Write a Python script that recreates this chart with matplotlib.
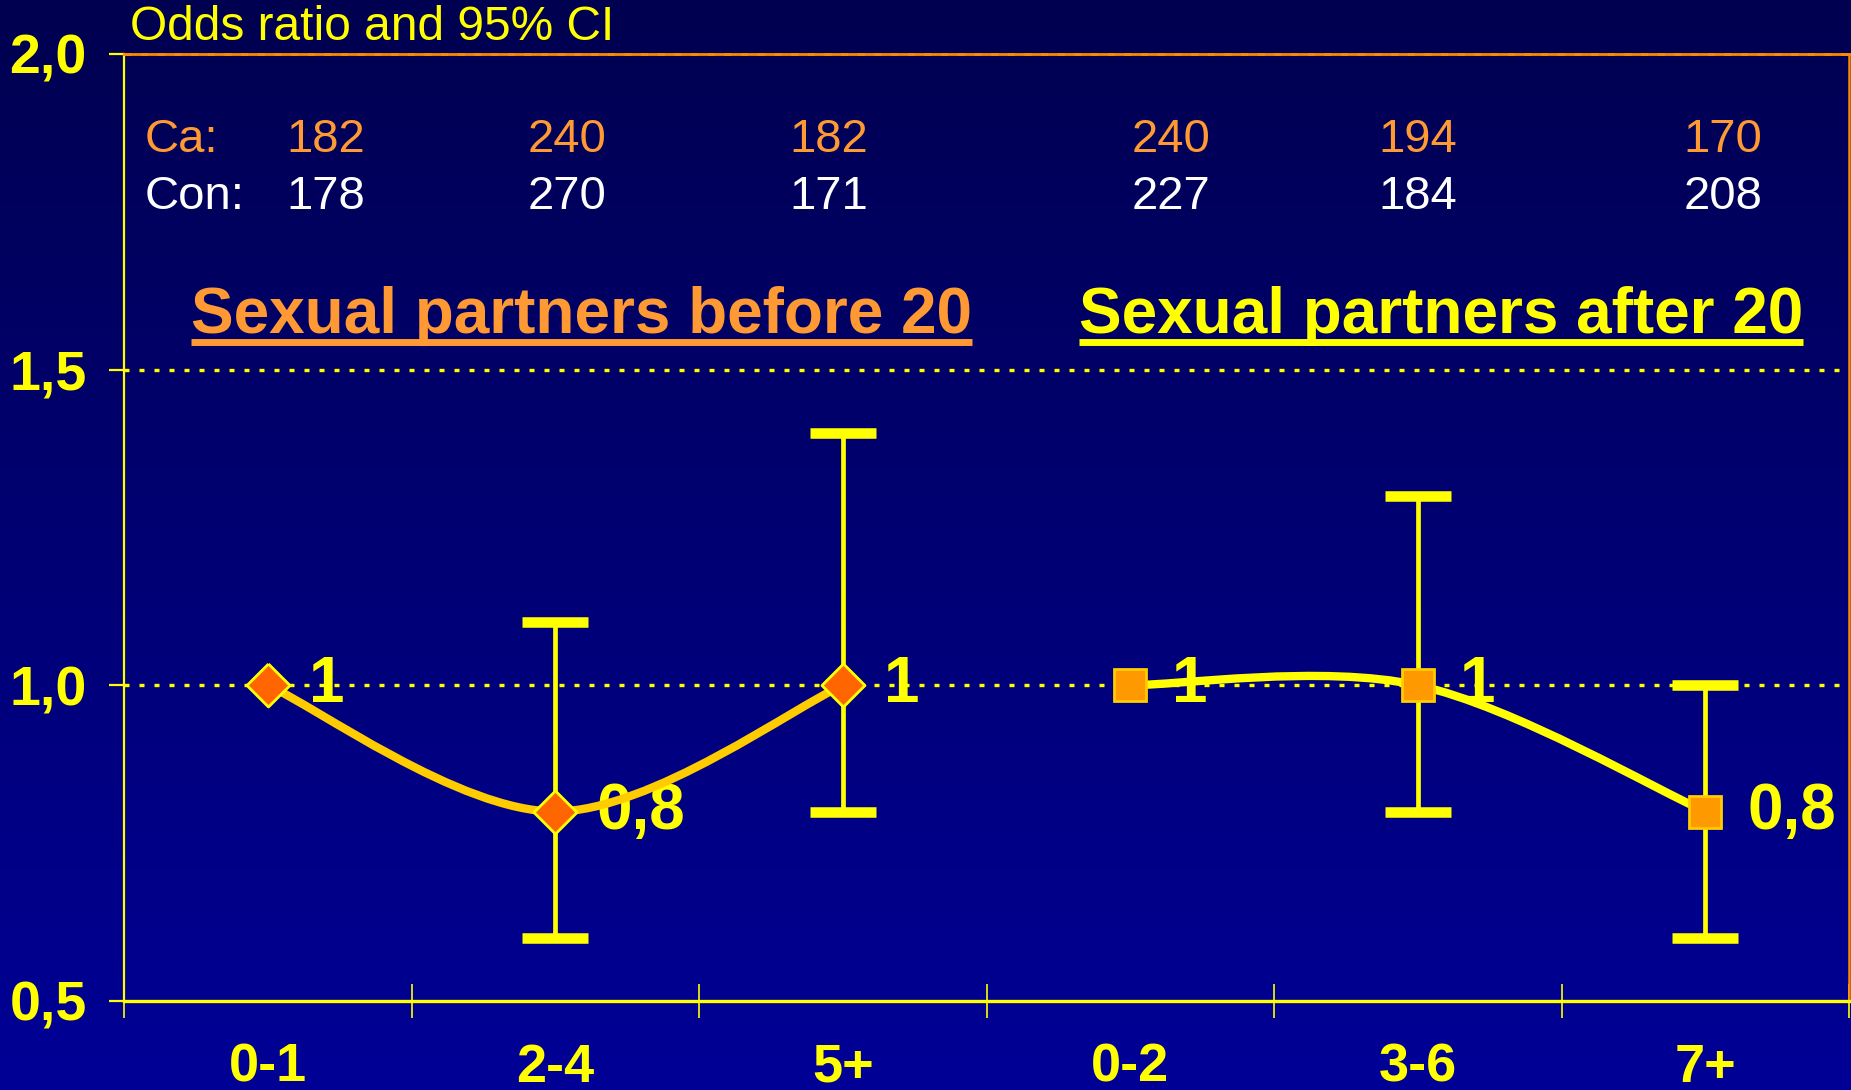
import numpy as np
import matplotlib
matplotlib.use("Agg")
import matplotlib.pyplot as plt
from matplotlib.path import Path
from matplotlib.patches import PathPatch
from matplotlib.lines import Line2D
from matplotlib.transforms import IdentityTransform
from matplotlib.colors import LinearSegmentedColormap

# data
categories = ["0-1", "2-4", "5+", "0-2", "3-6", "7+"]
odds_ratio = np.array([1.0, 0.8, 1.0, 1.0, 1.0, 0.8])
ci_low = np.array([np.nan, 0.6, 0.8, np.nan, 0.8, 0.6])
ci_high = np.array([np.nan, 1.1, 1.4, np.nan, 1.3, 1.0])
value_labels = ["1", "0,8", "1", "1", "1", "0,8"]
cases = [182, 240, 182, 240, 194, 170]
controls = [178, 270, 171, 227, 184, 208]
group_of = np.array([0, 0, 0, 1, 1, 1])
group_names = ["Sexual partners before 20", "Sexual partners after 20"]
yticks = [0.5, 1.0, 1.5, 2.0]
ytick_labels = ["0,5", "1,0", "1,5", "2,0"]

# layout bits
count_x = [0.70, 1.54, 2.45, 3.64, 4.50, 5.56]
header_x = [0.233, 3.32]

YELLOW = "#FFFF00"
GOLD = "#FFCC00"
ORANGE = "#FF9933"
FONT = ["Liberation Sans", "DejaVu Sans"]

fig = plt.figure(figsize=(18.51, 10.90), dpi=100)

# background gradient
bg = fig.add_axes([0, 0, 1, 1], zorder=-10)
cmap = LinearSegmentedColormap.from_list("bg", ["#000050", "#000096"])
bg.imshow(np.linspace(0, 1, 256).reshape(-1, 1), aspect="auto", cmap=cmap,
          extent=[0, 1, 0, 1], origin="upper")
bg.axis("off")

ax = fig.add_axes([0.067, 0.0817, 0.932, 0.8688])
ax.set_facecolor("none")
ax.set_xlim(0, 6)
ax.set_ylim(0.5, 2.0)

x = np.arange(len(categories)) + 0.5

# grid
for yv in (1.0, 1.5):
    ax.axhline(yv, color=YELLOW, lw=2.4, ls=(0, (1.5, 3.0)), zorder=1)

# spines
ax.spines["left"].set_color(YELLOW)
ax.spines["left"].set_linewidth(1.6)
ax.spines["bottom"].set_color(YELLOW)
ax.spines["bottom"].set_linewidth(2.4)
ax.spines["top"].set_color("#FF8800")
ax.spines["top"].set_linewidth(2.0)
ax.spines["right"].set_color("#FF8800")
ax.spines["right"].set_linewidth(1.8)
ax.axhline(2.0, color="#FFBB33", lw=2.0, ls=(0, (2.5, 3.5)), zorder=2,
           clip_on=False)

# error bars
m = ~np.isnan(ci_low)
eb = ax.errorbar(x[m], odds_ratio[m],
                 yerr=[odds_ratio[m] - ci_low[m], ci_high[m] - odds_ratio[m]],
                 fmt="none", ecolor=YELLOW, elinewidth=3.4, capsize=24,
                 capthick=7.6, zorder=3)
for cap in eb[1]:
    cap.set_color(GOLD)


def smooth_path(xs, ys):
    pts = np.column_stack([xs, ys])
    n = len(pts)
    verts = [pts[0]]
    codes = [Path.MOVETO]
    for i in range(n - 1):
        p0 = pts[max(i - 1, 0)]
        p1 = pts[i]
        p2 = pts[i + 1]
        p3 = pts[min(i + 2, n - 1)]
        verts += [p1 + (p2 - p0) / 6, p2 - (p3 - p1) / 6, p2]
        codes += [Path.CURVE4] * 3
    return Path(verts, codes)


line_colors = [GOLD, YELLOW]
for g in (0, 1):
    sel = group_of == g
    ax.add_patch(PathPatch(smooth_path(x[sel], odds_ratio[sel]), fill=False,
                           edgecolor=line_colors[g], lw=6, capstyle="round",
                           joinstyle="round", zorder=4))

# markers
diamond = [(0, 1), (1, 0), (0, -1), (-1, 0), (0, 1)]
sel = group_of == 0
ax.plot(x[sel], odds_ratio[sel], ls="none", marker=diamond, ms=31,
        mfc="#FF6600", mec=YELLOW, mew=2, zorder=5)
sel = group_of == 1
ax.plot(x[sel], odds_ratio[sel], ls="none", marker="s", ms=23,
        mfc="#FF9900", mec=GOLD, mew=2, zorder=5)

# value labels
for xi, yi, lbl in zip(x, odds_ratio, value_labels):
    ax.annotate(lbl, (xi, yi), xytext=(30, 0), textcoords="offset points",
                ha="left", va="center", fontsize=46, fontweight="bold",
                color=YELLOW, family=FONT, zorder=3.5)

# ticks
ax.set_xticks(range(len(categories) + 1))
ax.set_xticklabels([])
ax.tick_params(axis="x", which="major", direction="inout", length=25,
               width=1.2, color=YELLOW)
ax.set_xticks(x, minor=True)
ax.set_xticklabels(categories, minor=True)
ax.tick_params(axis="x", which="minor", length=0, pad=30, labelsize=39,
               labelcolor=YELLOW)
for t in ax.get_xticklabels(minor=True):
    t.set_fontfamily(FONT)
    t.set_fontweight("bold")

ax.set_yticks(yticks, ytick_labels)
ax.tick_params(axis="y", direction="out", length=11, width=1.6, color=YELLOW,
               pad=16, labelsize=40, labelcolor=YELLOW)
for t in ax.get_yticklabels():
    t.set_fontfamily(FONT)
    t.set_fontweight("bold")

# counts
row_ca, row_con = 1.863, 1.773
ax.text(0.073, row_ca, "Ca:", color=ORANGE, fontsize=34, family=FONT,
        ha="left", va="center")
ax.text(0.073, row_con, "Con:", color="white", fontsize=34, family=FONT,
        ha="left", va="center")
for cx, ca, co in zip(count_x, cases, controls):
    ax.text(cx, row_ca, str(ca), color=ORANGE, fontsize=34, family=FONT,
            ha="center", va="center")
    ax.text(cx, row_con, str(co), color="white", fontsize=34, family=FONT,
            ha="center", va="center")

ax.text(0.02, 2.042, "Odds ratio and 95% CI", color=YELLOW, fontsize=34.5,
        family=FONT, ha="left", va="center", clip_on=False)

# group headers with underline
header_colors = [ORANGE, YELLOW]
header_y = 1.558
headers = []
for hx, name, col in zip(header_x, group_names, header_colors):
    headers.append(ax.text(hx, header_y, name, color=col, fontsize=46,
                           fontweight="bold", family=FONT, ha="left",
                           va="baseline"))

fig.canvas.draw()
renderer = fig.canvas.get_renderer()
for t, col in zip(headers, header_colors):
    bb = t.get_window_extent(renderer)
    yb = ax.transData.transform((0, header_y))[1] - 9
    fig.add_artist(Line2D([bb.x0, bb.x1], [yb, yb], transform=IdentityTransform(),
                          color=col, lw=5, solid_capstyle="butt"))

fig.savefig("out.png", dpi=100)
